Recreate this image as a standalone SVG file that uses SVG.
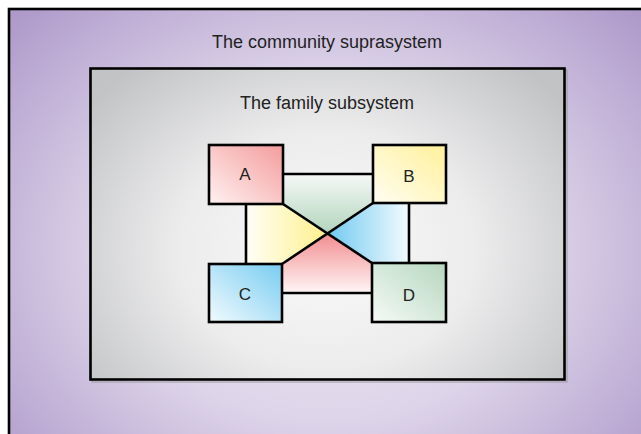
<svg xmlns="http://www.w3.org/2000/svg" width="641" height="434" viewBox="0 0 641 434">
<defs>
<radialGradient id="gOuter" cx="327" cy="250" r="430" gradientUnits="userSpaceOnUse" gradientTransform="translate(327 250) scale(1 0.8) translate(-327 -250)">
<stop offset="0" stop-color="#eeeaf3"/>
<stop offset="0.5" stop-color="#ddd4e9"/>
<stop offset="1" stop-color="#ae99ca"/>
</radialGradient>
<radialGradient id="gInner" cx="327" cy="250" r="300" gradientUnits="userSpaceOnUse" gradientTransform="translate(327 250) scale(1 0.8) translate(-327 -250)">
<stop offset="0" stop-color="#fafafb"/>
<stop offset="0.5" stop-color="#ececed"/>
<stop offset="1" stop-color="#c2c3c5"/>
</radialGradient>
<linearGradient id="gA" x1="0" y1="1" x2="1" y2="0">
<stop offset="0" stop-color="#fff2f2"/>
<stop offset="1" stop-color="#f49c9c"/>
</linearGradient>
<linearGradient id="gB" x1="0" y1="1" x2="1" y2="0">
<stop offset="0" stop-color="#fffdf2"/>
<stop offset="1" stop-color="#fff19a"/>
</linearGradient>
<linearGradient id="gC" x1="0" y1="1" x2="1" y2="0">
<stop offset="0" stop-color="#f2fafe"/>
<stop offset="1" stop-color="#78cdf1"/>
</linearGradient>
<linearGradient id="gD" x1="0" y1="1" x2="1" y2="0">
<stop offset="0" stop-color="#f6faf7"/>
<stop offset="1" stop-color="#b5d7be"/>
</linearGradient>
<linearGradient id="gTop" x1="0" y1="174" x2="0" y2="233" gradientUnits="userSpaceOnUse">
<stop offset="0" stop-color="#f6f9f7"/>
<stop offset="1" stop-color="#b2d5bc"/>
</linearGradient>
<linearGradient id="gLeft" x1="246" y1="0" x2="327" y2="0" gradientUnits="userSpaceOnUse">
<stop offset="0" stop-color="#fffef7"/>
<stop offset="1" stop-color="#fff08c"/>
</linearGradient>
<linearGradient id="gRight" x1="327" y1="0" x2="409" y2="0" gradientUnits="userSpaceOnUse">
<stop offset="0" stop-color="#6fc9f0"/>
<stop offset="1" stop-color="#f4fbfe"/>
</linearGradient>
<linearGradient id="gBottom" x1="0" y1="233" x2="0" y2="293" gradientUnits="userSpaceOnUse">
<stop offset="0" stop-color="#f28c8f"/>
<stop offset="1" stop-color="#fff6f6"/>
</linearGradient>
</defs>
<style>
.frame{stroke:#000;stroke-width:2.6;}
.box{stroke:#000;stroke-width:2.6;}
.lbl{font-family:"Liberation Sans",Arial,sans-serif;font-size:17px;fill:#222;text-anchor:middle;}
.ttl{font-family:"Liberation Sans",Arial,sans-serif;font-size:18px;fill:#222;text-anchor:middle;}
.ln{stroke:#000;stroke-width:2.6;fill:none;stroke-linecap:square;}
</style>
<rect x="0" y="0" width="641" height="434" fill="#ffffff"/>
<g id="suprasystem">
<rect class="frame" x="9" y="9" width="640" height="432" fill="url(#gOuter)"/>
<text class="ttl" x="327" y="48">The community suprasystem</text>
</g>
<g id="subsystem">
<rect x="92" y="70" width="475" height="312" fill="none" stroke="#9a9a9c" stroke-width="1"/>
<rect class="frame" x="90.5" y="68.5" width="474" height="311" fill="url(#gInner)"/>
<text class="ttl" x="327" y="109">The family subsystem</text>
</g>
<g id="regions">
<polygon points="283,174 373,174 373,203 327.5,233.5 283,204" fill="url(#gTop)"/>
<polygon points="246,204 283,204 327.5,233.5 282,264 246,264" fill="url(#gLeft)"/>
<polygon points="373,203 409,203 409,263 372,263 327.5,233.5" fill="url(#gRight)"/>
<polygon points="282,264 327.5,233.5 372,263 372,293 282,293" fill="url(#gBottom)"/>
</g>
<g id="connectors">
<line class="ln" x1="283" y1="174" x2="373" y2="174"/>
<line class="ln" x1="246" y1="204" x2="246" y2="264"/>
<line class="ln" x1="409" y1="203" x2="409" y2="263"/>
<line class="ln" x1="282" y1="293" x2="372" y2="293"/>
<line class="ln" x1="283" y1="204" x2="372" y2="263"/>
<line class="ln" x1="373" y1="203" x2="282" y2="264"/>
</g>
<g id="node-A">
<rect class="box" x="209" y="145" width="74" height="59" fill="url(#gA)"/>
<text class="lbl" x="245" y="180">A</text>
</g>
<g id="node-B">
<rect class="box" x="373" y="145" width="73" height="58" fill="url(#gB)"/>
<text class="lbl" x="409" y="182">B</text>
</g>
<g id="node-C">
<rect class="box" x="209" y="264" width="73" height="58" fill="url(#gC)"/>
<text class="lbl" x="245" y="300">C</text>
</g>
<g id="node-D">
<rect class="box" x="372" y="263" width="74" height="59" fill="url(#gD)"/>
<text class="lbl" x="409" y="301">D</text>
</g>
</svg>
